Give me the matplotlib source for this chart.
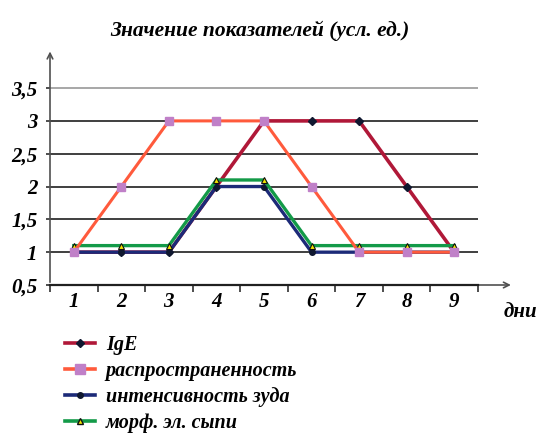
import matplotlib

matplotlib.use('Agg')
import matplotlib.pyplot as plt
from matplotlib.lines import Line2D

days = [1, 2, 3, 4, 5, 6, 7, 8, 9]
ige = [1, 1, 1, 2, 3, 3, 3, 2, 1]
prevalence = [1, 2, 3, 3, 3, 2, 1, 1, 1]
itch = [1, 1, 1, 2, 2, 1, 1, 1, 1]
rash = [1.1, 1.1, 1.1, 2.1, 2.1, 1.1, 1.1, 1.1, 1.1]
y_ticks = [0.5, 1, 1.5, 2, 2.5, 3, 3.5]
y_labels = ['0,5', '1', '1,5', '2', '2,5', '3', '3,5']
labels = ['IgE', 'распространенность', 'интенсивность зуда', 'морф. эл. сыпи']

plt.rcParams['font.family'] = ['Liberation Serif', 'DejaVu Serif']
font = dict(fontweight='bold', fontstyle='italic')

fig = plt.figure(figsize=(5.45, 4.40), dpi=100)
ax = fig.add_axes([50 / 545, 155 / 440, 428 / 545, 235 / 440])
ax.set_xlim(0.5, 9.5)
ax.set_ylim(0.5, 4.08)

for v in y_ticks[1:]:
    ax.axhline(v, color='#a0a0a0' if v == 3.5 else '#303030', lw=1.3, zorder=1)

ax.plot(days, itch, color='#1c2a78', lw=2.4, marker='o', ms=4,
        mfc='#101830', mec='#101830', zorder=3)
ax.plot(days, rash, color='#139a48', lw=2.4, marker='^', ms=4.5,
        mfc='#f2e600', mec='#101010', mew=0.8, zorder=4)
ax.plot(days, prevalence, color='#ff5a3c', lw=2.2, marker='s', ms=5.5,
        mfc='#c080c8', mec='#c080c8', zorder=5)
ax.plot(days, ige, color='#b01838', lw=2.6, marker='D', ms=4.5,
        mfc='#101830', mec='#101830', zorder=2)

for s in ['top', 'right', 'bottom', 'left']:
    ax.spines[s].set_visible(False)
ax.annotate('', xy=(0.5, 4.1), xytext=(0.5, 0.5),
            arrowprops=dict(arrowstyle='->', color='#505050', lw=1.2),
            annotation_clip=False)
ax.annotate('', xy=(10.25, 0.5), xytext=(0.5, 0.5),
            arrowprops=dict(arrowstyle='->', color='#505050', lw=1.2),
            annotation_clip=False)
ax.plot([0.5, 9.5], [0.5, 0.5], color='#202020', lw=1.6, clip_on=False, zorder=6)

ax.set_xticks([x + 0.5 for x in [0] + days])
ax.set_xticklabels([])
ax.set_xticks(days, minor=True)
ax.set_xticklabels([str(d) for d in days], minor=True, fontsize=15, **font)
ax.tick_params(axis='x', which='major', length=5, width=1.2, color='#303030', direction='out')
ax.tick_params(axis='x', which='minor', length=0, pad=5)
ax.set_yticks(y_ticks)
ax.set_yticklabels(y_labels, fontsize=15, **font)
ax.tick_params(axis='y', length=3, width=1.2, color='#303030', pad=6)

fig.text(0.477, 0.93, 'Значение показателей (усл. ед.)', ha='center', va='center',
         fontsize=15.5, **font)
fig.text(0.955, 0.29, 'дни', ha='center', va='center', fontsize=15, **font)

handles = [
    Line2D([], [], color='#b01838', lw=2.6, marker='D', ms=4, mfc='#101830', mec='#101830'),
    Line2D([], [], color='#ff5a3c', lw=2.6, marker='s', ms=7, mfc='#c080c8', mec='#c080c8'),
    Line2D([], [], color='#1c2a78', lw=2.6, marker='o', ms=4, mfc='#101830', mec='#101830'),
    Line2D([], [], color='#139a48', lw=2.6, marker='^', ms=5, mfc='#f2e600', mec='#101010'),
]
fig.legend(handles, labels, loc='upper left', bbox_to_anchor=(0.1, 0.262),
           frameon=False, handlelength=1.5, labelspacing=0.3, borderpad=0,
           handletextpad=0.55, prop=dict(family='Liberation Serif', weight='bold',
                                         style='italic', size=14.5))

fig.savefig('out.png', dpi=100)
